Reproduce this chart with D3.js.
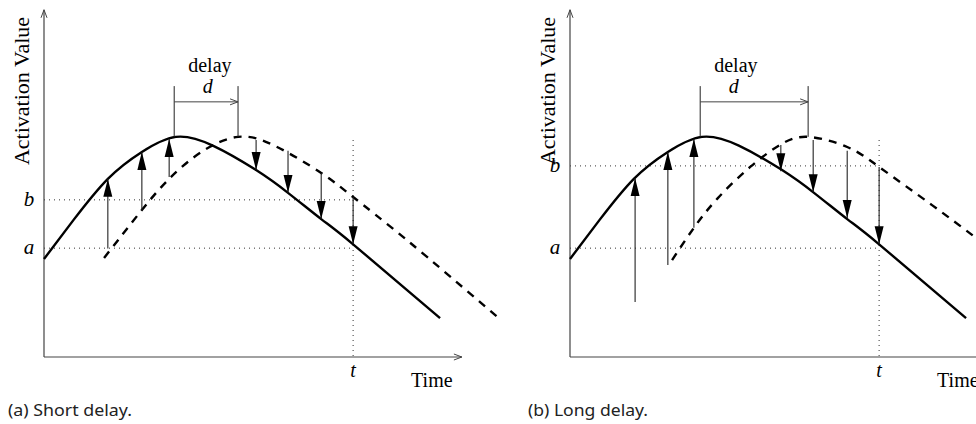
<!DOCTYPE html>
<html>
<head>
<meta charset="utf-8">
<script src="https://cdn.jsdelivr.net/npm/d3@7"></script>
<style>
  body { margin: 0; background: #fff; }
  svg { display: block; }
</style>
</head>
<body>
<svg width="976" height="424"></svg>
<script>
// activation curve (time in %, value in %)
var solidT = [0, 7, 15.2, 23.3, 31.4, 40.2, 50.5, 58.1, 66, 73.6, 94.3];
var solidV = [28, 39.1, 50.9, 58.6, 62.9, 60.4, 53.4, 46.9, 39.4, 32.2, 11.1];

// delayed copy, short delay
var shortDashT = [14.3, 23.3, 29.8, 37.5, 46.2, 55, 66, 73.6, 86.4, 108.3];
var shortDashV = [28.3, 42, 50.9, 58.6, 62.9, 60.3, 52.6, 45.7, 33.4, 11.1];

// delayed copy, long delay
var longDashT = [24.3, 29.5, 35.2, 42.9, 50, 56.7, 66, 73.6, 86.2, 96.7];
var longDashV = [27.7, 36.9, 45.4, 54.3, 60.6, 62.9, 60, 54.3, 43.4, 34];

// correction arrows: time, from value, to value
var shortArrowT = [15.2, 23.3, 29.8, 50.5, 58.1, 66, 73.6];
var shortArrowFrom = [31, 42, 51.4, 62, 58.9, 52.6, 45.7];
var shortArrowTo = [50.9, 58.6, 62.3, 53.4, 46.9, 39.4, 32.2];

var longArrowT = [15.5, 23.3, 29.5, 50.2, 57.9, 66, 73.6];
var longArrowFrom = [15.7, 26.3, 36.9, 60.6, 62, 58.9, 54.3];
var longArrowTo = [51.1, 58.6, 62.3, 53.1, 47.1, 39.7, 32.2];

// thresholds a and b
var levelLabels = ["a", "b"];
var shortLevels = [31.1, 44.9];
var longLevels = [31.1, 54.6];
var tMark = 73.6;

// delay bracket [start, end]
var shortDelay = [31, 46.2];
var longDelay = [31, 56.7];

var captions = ["(a) Short delay.", "(b) Long delay."];

var svg = d3.select("svg");
var serif = "'Liberation Serif', 'Times New Roman', serif";

var defs = svg.append("defs");
defs.append("marker")
    .attr("id", "head")
    .attr("markerUnits", "userSpaceOnUse")
    .attr("viewBox", "0 -5 18 10")
    .attr("markerWidth", 18).attr("markerHeight", 10)
    .attr("refX", 18).attr("refY", 0)
    .attr("orient", "auto")
    .append("path")
    .attr("d", "M0,-4.5L18,0L0,4.5Z")
    .attr("fill", "#000");
defs.append("marker")
    .attr("id", "open")
    .attr("markerUnits", "userSpaceOnUse")
    .attr("viewBox", "-1 -4 10 8")
    .attr("markerWidth", 10).attr("markerHeight", 8)
    .attr("refX", 8).attr("refY", 0)
    .attr("orient", "auto")
    .append("path")
    .attr("d", "M0,-3L8,0L0,3")
    .attr("fill", "none")
    .attr("stroke", "#444")
    .attr("stroke-width", 1);

var panels = [
    {ox: 44, dashT: shortDashT, dashV: shortDashV, arT: shortArrowT, arFrom: shortArrowFrom, arTo: shortArrowTo,
     levels: shortLevels, delay: shortDelay, caption: captions[0], capX: 8, capW: 124, axisEnd: 99.5},
    {ox: 570, dashT: longDashT, dashV: longDashV, arT: longArrowT, arFrom: longArrowFrom, arTo: longArrowTo,
     levels: longLevels, delay: longDelay, caption: captions[1], capX: 528, capW: 120, axisEnd: 110}
];

panels.forEach(function (p) {
    var x = d3.scaleLinear().domain([0, 100]).range([p.ox, p.ox + 420]);
    var y = d3.scaleLinear().domain([0, 100]).range([357, 7]);
    var g = svg.append("g");

    // dotted guides
    p.levels.forEach(function (lv, i) {
        g.append("line")
            .attr("x1", x(0)).attr("x2", x(tMark))
            .attr("y1", y(lv)).attr("y2", y(lv))
            .attr("stroke", "#333").attr("stroke-width", 1)
            .attr("stroke-dasharray", "1,4");
        g.append("text")
            .attr("x", x(0) - 15).attr("y", y(lv) + 6)
            .attr("text-anchor", "middle")
            .attr("font-family", serif).attr("font-style", "italic")
            .attr("font-size", 21)
            .text(levelLabels[i]);
    });
    g.append("line")
        .attr("x1", x(tMark)).attr("x2", x(tMark))
        .attr("y1", y(62)).attr("y2", y(0))
        .attr("stroke", "#333").attr("stroke-width", 1)
        .attr("stroke-dasharray", "1,4");

    // axes
    g.append("line")
        .attr("x1", x(0)).attr("x2", x(0))
        .attr("y1", y(0)).attr("y2", y(99.2))
        .attr("stroke", "#444").attr("stroke-width", 1.2)
        .attr("marker-end", "url(#open)");
    g.append("line")
        .attr("x1", x(0)).attr("x2", x(p.axisEnd))
        .attr("y1", y(0)).attr("y2", y(0))
        .attr("stroke", "#444").attr("stroke-width", 1.2)
        .attr("marker-end", "url(#open)");

    g.append("text")
        .attr("transform", "translate(" + (x(0) - 15) + "," + y(76) + ")rotate(-90)")
        .attr("text-anchor", "middle")
        .attr("font-family", serif).attr("font-size", 22)
        .text("Activation Value");
    g.append("text")
        .attr("x", x(tMark)).attr("y", y(-5.7))
        .attr("text-anchor", "middle")
        .attr("font-family", serif).attr("font-style", "italic")
        .attr("font-size", 20)
        .text("t");
    g.append("text")
        .attr("x", x(87.4)).attr("y", y(-8.6))
        .attr("font-family", serif).attr("font-size", 20)
        .text("Time");

    // curves
    var line = d3.line()
        .x(function (d) { return x(d[0]); })
        .y(function (d) { return y(d[1]); })
        .curve(d3.curveNatural);
    g.append("path")
        .attr("d", line(d3.zip(solidT, solidV)))
        .attr("fill", "none").attr("stroke", "#000")
        .attr("stroke-width", 2.4);
    g.append("path")
        .attr("d", line(d3.zip(p.dashT, p.dashV)))
        .attr("fill", "none").attr("stroke", "#000")
        .attr("stroke-width", 2.4)
        .attr("stroke-dasharray", "8,7");

    // correction arrows
    g.selectAll("line.arrow")
        .data(d3.zip(p.arT, p.arFrom, p.arTo))
        .enter().append("line")
        .attr("class", "arrow")
        .attr("x1", function (d) { return x(d[0]); })
        .attr("x2", function (d) { return x(d[0]); })
        .attr("y1", function (d) { return y(d[1]); })
        .attr("y2", function (d) { return y(d[2]); })
        .attr("stroke", "#222").attr("stroke-width", 1.1)
        .attr("marker-end", "url(#head)");

    // delay bracket
    g.append("line")
        .attr("x1", x(p.delay[0])).attr("x2", x(p.delay[0]))
        .attr("y1", y(77.4)).attr("y2", y(62.9))
        .attr("stroke", "#222").attr("stroke-width", 1);
    g.append("line")
        .attr("x1", x(p.delay[1])).attr("x2", x(p.delay[1]))
        .attr("y1", y(77.4)).attr("y2", y(62.9))
        .attr("stroke", "#222").attr("stroke-width", 1);
    g.append("line")
        .attr("x1", x(p.delay[0])).attr("x2", x(p.delay[1]))
        .attr("y1", y(72.9)).attr("y2", y(72.9))
        .attr("stroke", "#444").attr("stroke-width", 1)
        .attr("marker-end", "url(#open)");
    g.append("text")
        .attr("x", x(39.5)).attr("y", y(81.4))
        .attr("text-anchor", "middle")
        .attr("font-family", serif).attr("font-size", 20)
        .text("delay");
    g.append("text")
        .attr("x", x(39)).attr("y", y(75.5))
        .attr("text-anchor", "middle")
        .attr("font-family", serif).attr("font-style", "italic")
        .attr("font-size", 20)
        .text("d");

    svg.append("text")
        .attr("x", p.capX).attr("y", 416)
        .attr("font-family", "'Noto Sans', sans-serif")
        .attr("font-size", 16)
        .attr("textLength", p.capW)
        .attr("lengthAdjust", "spacingAndGlyphs")
        .attr("fill", "#222")
        .text(p.caption);
});
</script>
</body>
</html>
